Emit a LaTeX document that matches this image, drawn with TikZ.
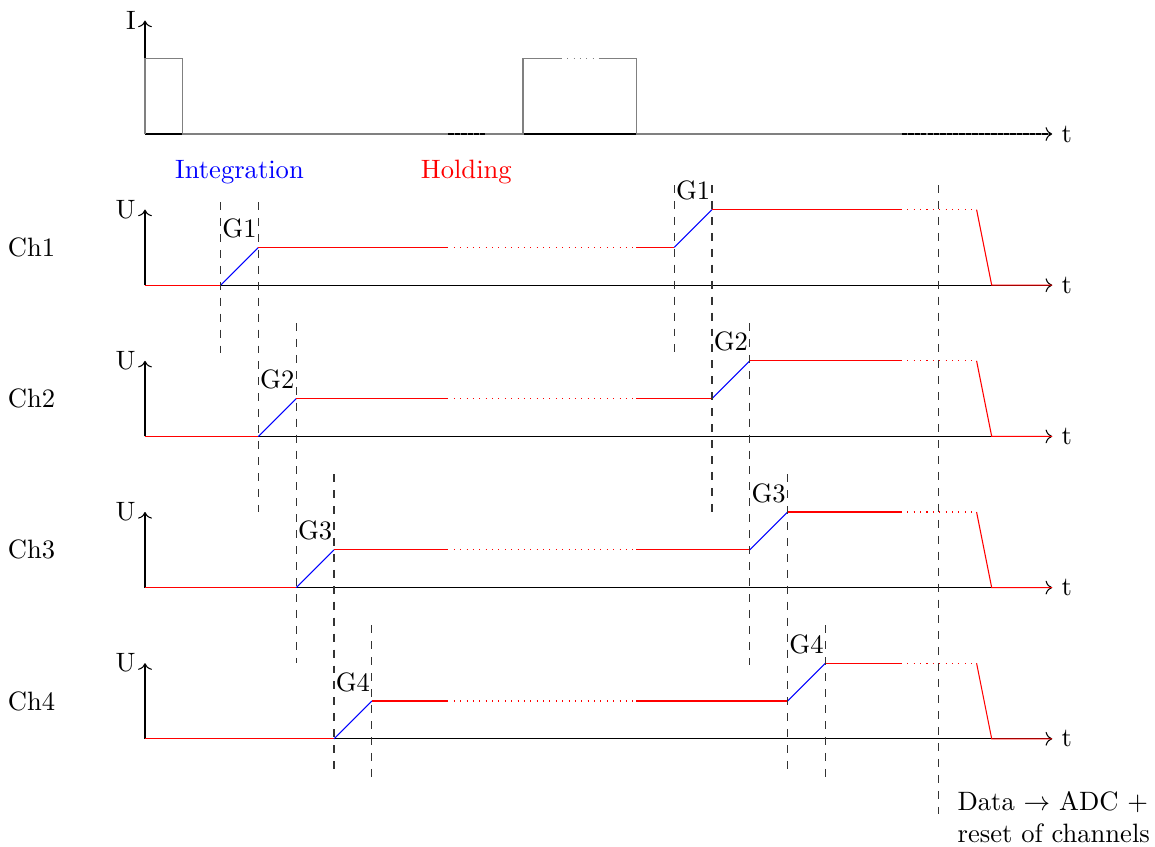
\documentclass[tikz,border=0pt]{standalone}
\usetikzlibrary{arrows.meta}
\begin{document}
\begin{tikzpicture}[x=0.5cm,y=0.5cm,
  axis/.style={->,black},
  sig/.style={gray},
  hold/.style={red},
  integ/.style={blue},
  guide/.style={dashed,black!80}]
\useasboundingbox (-3.836,-18.84) rectangle (26.72,3.545);
% top plot: current
\draw[axis] (0,0) -- (24,0) node[right] (tI) {t};
\draw[axis] (0,0) -- (0,3) node[left] (I) {I};
\draw[sig] (0,0) -- (0,2) -- (1,2) -- (1,0) -- (8,0);
\draw[sig,dotted] (8,0) -- (9,0);
\draw[sig] (9,0) -- (10,0) -- (10,2) -- (11,2);
\draw[sig,dotted] (11,2) -- (12,2);
\draw[sig] (12,2) -- (13,2) -- (13,0) -- (20,0);
\draw[sig,dotted] (20,0) -- (24,0);
\node[blue] (integ) at (2.5,-1) {Integration};
\node[red] (hold) at (8.5,-1) {Holding};
% channels
\foreach \k in {1,2,3,4} {
  \pgfmathsetmacro\b{-4*\k}
  \pgfmathsetmacro\s{\k+1}
  \draw[axis] (0,\b) -- (24,\b) node[right] (t\k) {t};
  \draw[axis] (0,\b) -- (0,\b+2) node[left] (U\k) {U};
  \node (ch\k) at (-3,\b+1) {Ch\k};
  \draw[hold] (0,\b) -- (\s,\b);
  \draw[integ] (\s,\b) -- (\s+1,\b+1);
  \draw[hold] (\s+1,\b+1) -- (8,\b+1);
  \draw[hold,dotted] (8,\b+1) -- (13,\b+1);
  \draw[hold] (13,\b+1) -- (\s+12,\b+1);
  \draw[integ] (\s+12,\b+1) -- (\s+13,\b+2);
  \draw[hold] (\s+13,\b+2) -- (20,\b+2);
  \draw[hold,dotted] (20,\b+2) -- (22,\b+2);
  \draw[hold] (22,\b+2) -- (22.4,\b) -- (24,\b);
  \node (ga\k) at (\s+0.5,\b+1.5) {G\k};
  \node (gb\k) at (\s+12.5,\b+2.5) {G\k};
}
% guide lines
\draw[guide] (2,-1.8) -- (2,-5.8);
\draw[guide] (3,-1.8) -- (3,-10);
\draw[guide] (4,-5) -- (4,-14);
\draw[guide] (5,-9) -- (5,-16.8);
\draw[guide] (6,-13) -- (6,-17);
\draw[guide] (14,-1.35) -- (14,-5.85);
\draw[guide] (15,-1.35) -- (15,-10.05);
\draw[guide] (16,-5) -- (16,-14.05);
\draw[guide] (17,-9) -- (17,-16.8);
\draw[guide] (18,-13) -- (18,-17);
\draw[guide] (21,-1.35) -- (21,-18);
\node[anchor=west,align=left] (data) at (21.25,-18.08) {Data $\rightarrow$ ADC +\\reset of channels};
\end{tikzpicture}
\end{document}
